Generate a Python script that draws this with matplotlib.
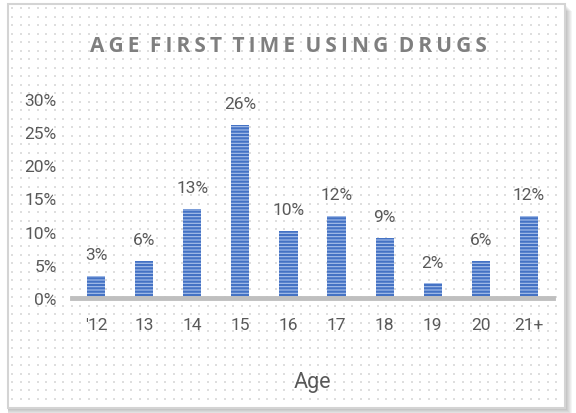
import matplotlib.pyplot as plt
from matplotlib.patches import Rectangle
import numpy as np

ages = ["'12", "13", "14", "15", "16", "17", "18", "19", "20", "21+"]
shares = [3.3, 5.6, 13.4, 26.1, 10.1, 12.4, 9.1, 2.2, 5.6, 12.4]  # en %
titre = "AGE FIRST TIME USING DRUGS"
yticks = [0, 5, 10, 15, 20, 25, 30]

gris = '#595959'
plt.rcParams['font.family'] = ['Roboto', 'DejaVu Sans']
plt.rcParams['hatch.linewidth'] = 1.6
plt.rcParams['hatch.color'] = '#4472C4'

fig = plt.figure(figsize=(5.76, 4.14), dpi=100)
W, H = 576, 414

# cadre avec ombre
for k in range(8):
    fig.patches.append(Rectangle((8 / W, (5 - k) / H), (557 + k) / W, 404 / H,
                                 transform=fig.transFigure, facecolor='#000000',
                                 edgecolor='none', alpha=0.04, zorder=-3))
fig.patches.append(Rectangle((8 / W, 5 / H), 557 / W, 404 / H, transform=fig.transFigure,
                             facecolor='white', edgecolor='#d4d4d4', lw=1.5, zorder=-2))

# fond à points
gx, gy = np.meshgrid(np.arange(12, 563, 8.5), np.arange(9, 405, 8.5))
dots = fig.add_axes([0, 0, 1, 1], zorder=0)
dots.set_xlim(0, W)
dots.set_ylim(H, 0)
dots.axis('off')
dots.patch.set_alpha(0)
dots.scatter(gx.ravel(), gy.ravel(), s=1.3, color='#dedede', marker='s', linewidths=0)

ax = fig.add_axes([72 / W, 1 - 299 / H, 481 / W, 199 / H], zorder=1)
ax.patch.set_alpha(0)
x = np.arange(len(ages))
bars = ax.bar(x, shares, width=0.38, facecolor='#A9C0EA', edgecolor='#4472C4',
              hatch='-----', linewidth=0)

for xi, v in zip(x, shares):
    ax.annotate(f'{v:.0f}%', (xi, v), xytext=(0, 10), textcoords='offset points',
                ha='center', va='bottom', fontsize=12.5, color=gris)

ax.set_xlim(-0.5, len(ages) - 0.5)
ax.set_ylim(0, 30)
ax.set_yticks(yticks)
ax.set_yticklabels([f'{t}%' for t in yticks])
ax.set_xticks(x)
ax.set_xticklabels(ages)
ax.tick_params(axis='both', length=0, labelsize=12.5, colors=gris)
ax.tick_params(axis='y', pad=11)
ax.tick_params(axis='x', pad=14)
for s in ['top', 'right', 'left']:
    ax.spines[s].set_visible(False)
ax.spines['bottom'].set_color('#BFBFBF')
ax.spines['bottom'].set_linewidth(3.5)
ax.set_xlabel('Age', fontsize=15.5, color=gris, labelpad=28)

# titre espacé
fig.text(288 / W, 1 - 47 / H, '\u2009'.join(titre).replace('\u2009 \u2009', '\u2002'),
         ha='center', va='center', fontsize=15, fontweight='bold', color='#7f7f7f',
         family=['Open Sans', 'DejaVu Sans'])

fig.savefig('out.png', dpi=100)
